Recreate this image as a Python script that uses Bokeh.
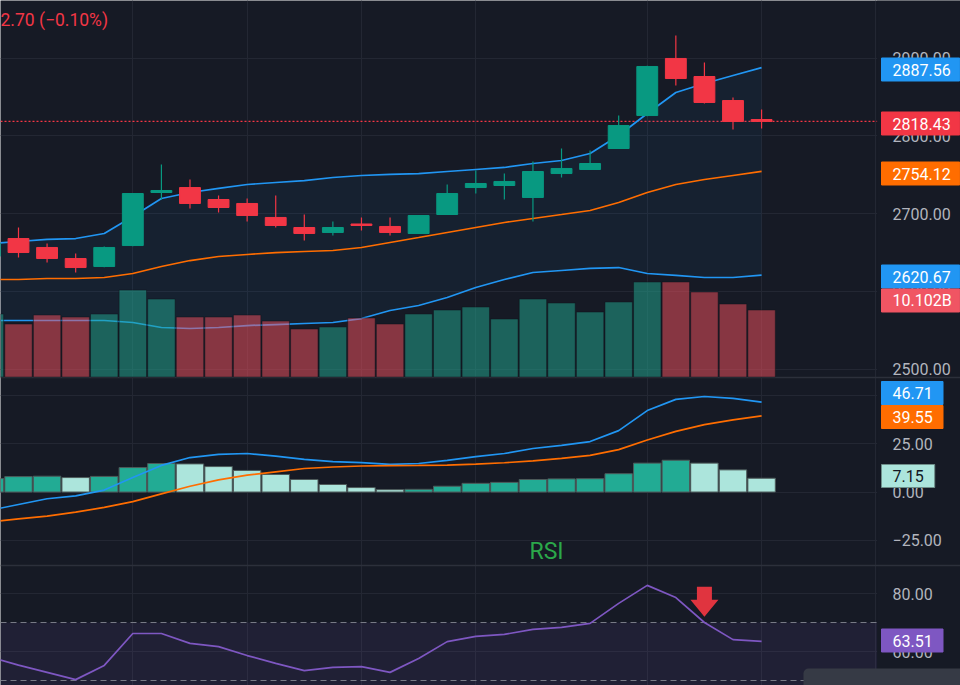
from bokeh.plotting import figure
from bokeh.models import Range1d, FixedTicker, Span, Label, BoxAnnotation, ColumnDataSource
from bokeh.core.properties import value
from bokeh.embed import file_html
from bokeh.resources import INLINE

# ---------------- data ----------------
bar_index = list(range(-1, 27))
open_ = [2645.0, 2667.8, 2656.3, 2642.1, 2631.8, 2658.8, 2727.0, 2733.4, 2718.0, 2712.9, 2694.9, 2682.0, 2675.6, 2686.5,
         2683.3, 2674.3, 2698.7, 2733.4, 2736.0, 2720.6, 2751.4, 2756.6, 2783.6, 2826.0, 2899.4, 2876.2, 2845.3, 2820.9]
high = [2668.0, 2682.0, 2661.4, 2648.6, 2657.5, 2726.5, 2763.0, 2743.7, 2723.2, 2719.3, 2723.2, 2698.7, 2689.7, 2694.9,
        2694.9, 2698.0, 2737.3, 2755.3, 2751.4, 2766.9, 2783.6, 2781.0, 2826.0, 2890.0, 2928.9, 2894.2, 2849.2, 2833.8]
low = [2640.0, 2643.4, 2637.0, 2624.1, 2631.0, 2658.0, 2718.0, 2706.4, 2701.3, 2689.7, 2682.0, 2665.3, 2671.7, 2678.1,
       2671.7, 2674.0, 2698.0, 2725.7, 2718.0, 2689.7, 2746.3, 2756.0, 2783.0, 2825.0, 2864.6, 2841.5, 2808.0, 2809.3]
close = [2662.0, 2649.8, 2642.1, 2630.5, 2656.3, 2725.7, 2729.6, 2712.9, 2707.7, 2697.4, 2684.6, 2674.3, 2682.0, 2684.6,
         2675.6, 2697.4, 2725.7, 2738.6, 2741.2, 2754.0, 2757.9, 2764.3, 2813.2, 2889.1, 2873.6, 2842.8, 2818.3, 2818.43]
volume_b = [9.50, 7.99, 9.35, 9.05, 9.50, 13.12, 11.76, 9.05, 9.05, 9.35, 8.44, 7.24, 7.54, 8.90,
            7.99, 9.50, 10.10, 10.56, 8.75, 11.76, 11.16, 9.80, 11.31, 14.33, 14.33, 12.82, 11.01, 10.102]
bb_upper = [2661.4, 2664.0, 2666.6, 2667.8, 2674.3, 2696.1, 2719.3, 2727.0, 2732.2, 2737.3, 2739.9, 2742.4, 2746.3, 2748.9,
            2750.2, 2751.4, 2754.0, 2756.6, 2759.2, 2764.3, 2768.2, 2777.2, 2800.3, 2828.6, 2855.6, 2867.2, 2877.5, 2887.56]
bb_basis = [2615.1, 2615.1, 2616.4, 2616.4, 2617.7, 2622.8, 2631.8, 2639.5, 2644.7, 2647.3, 2649.8, 2651.1, 2652.4, 2656.3,
            2662.7, 2669.1, 2675.6, 2682.0, 2688.4, 2693.6, 2698.7, 2703.9, 2714.1, 2727.0, 2737.3, 2743.7, 2748.9, 2754.12]
bb_lower = [2562.4, 2562.4, 2562.4, 2562.4, 2562.4, 2559.8, 2553.4, 2552.1, 2553.4, 2555.9, 2557.2, 2558.5, 2559.8, 2564.9,
            2575.2, 2581.7, 2592.0, 2604.8, 2615.1, 2624.1, 2626.7, 2629.3, 2630.5, 2622.8, 2620.3, 2617.7, 2617.7, 2620.67]
macd_line = [-9.5, -6.5, -3.5, -2.0, 1.0, 7.5, 13.8, 17.9, 19.5, 20.0, 18.6, 16.9, 15.8, 15.3,
             14.3, 14.8, 16.4, 18.4, 20.0, 22.6, 24.2, 26.2, 31.9, 42.3, 48.1, 49.6, 48.6, 46.71]
macd_signal = [-15.5, -14.0, -12.5, -10.5, -8.0, -5.0, -1.0, 3.0, 6.3, 8.8, 10.5, 12.2, 13.0, 13.5,
               13.7, 13.8, 14.0, 14.5, 15.2, 16.2, 17.5, 19.0, 22.0, 27.0, 31.5, 35.0, 37.5, 39.55]
macd_hist = [7.0, 8.0, 8.2, 7.5, 8.1, 12.7, 14.8, 14.6, 13.2, 11.2, 9.1, 6.5, 3.9, 2.3,
             1.2, 1.4, 3.0, 4.5, 5.0, 6.5, 6.8, 6.9, 9.5, 15.0, 16.5, 15.0, 11.5, 7.15]
rsi = [58.1, 55.3, 52.8, 50.3, 55.2, 66.2, 66.2, 62.8, 61.7, 58.6, 55.9, 53.4, 54.5, 54.8,
       52.8, 57.6, 63.4, 65.2, 65.9, 67.6, 68.3, 69.7, 76.6, 82.8, 78.6, 70.0, 64.1, 63.51]
rsi_upper_band, rsi_middle_band, rsi_lower_band = 70, 50, 30
price_ticks = [2500, 2600, 2700, 2800, 2900]
macd_ticks = [50, 25, 0, -25]
rsi_ticks = [80, 60]
time_grid = [4, 8, 12, 16, 22, 26, 30]
header_text = "2.70 (\u22120.10%)"
signal_bar, signal_rsi = 24, 72.0   # down-arrow marker on the RSI pane

# ---------------- style ----------------
BG = "#161a25"
GRID = "#232733"
SEP = "#2c303b"
UP, DOWN = "#089981", "#f23645"
VOL_UP, VOL_DOWN = "#22ab94", "#f7525f"
HIST_UP, HIST_DOWN = "#22ab94", "#ace5dc"
BLUE, ORANGE, PURPLE = "#2196f3", "#ff6d00", "#7e57c2"
FONT = "Roboto"

# ---------------- geometry (pixels) ----------------
W, H = 960, 685
SCALE_X = 876          # left edge of the price scale
X0, BAR_PX = 18.0, 28.58


def px_x(x):
    return (x - X0) / BAR_PX


def make_range(v0, y0, ppu):
    return Range1d(start=v0 - (H - y0) / ppu, end=v0 + y0 / ppu)


price_rng = make_range(2700, 213, 0.7775)
vol_rng = make_range(0, 376.5, 6.631)
macd_rng = make_range(0, 491.5, 1.925)
rsi_rng = make_range(80, 593, 2.9)


def px_y(y, rng=price_rng):
    return rng.end - y / H * (rng.end - rng.start)


def to_price(v, rng):
    f = (v - rng.start) / (rng.end - rng.start)
    return price_rng.start + f * (price_rng.end - price_rng.start)


def fmt(v):
    return f"{v:.2f}".replace("-", "\u2212")


# ---------------- figure ----------------
p = figure(width=W, height=H, output_backend="svg", toolbar_location=None,
           x_range=Range1d(px_x(0), px_x(W)), y_range=price_rng,
           x_axis_location=None, y_axis_location="right",
           min_border=0, min_border_right=0,
           background_fill_color=BG, border_fill_color=BG, outline_line_color=None)
p.extra_y_ranges = {"vol": vol_rng, "macd": macd_rng, "rsi": rsi_rng}

ticks, overrides = [], {}
for v in price_ticks:
    t = float(v)
    ticks.append(t)
    overrides[t] = fmt(v)
for v in macd_ticks:
    t = round(to_price(v, macd_rng), 6)
    ticks.append(t)
    overrides[t] = fmt(v)
for v in rsi_ticks:
    t = round(to_price(v, rsi_rng), 6)
    ticks.append(t)
    overrides[t] = fmt(v)
ticker = FixedTicker(ticks=sorted(ticks), minor_ticks=[])

ax = p.yaxis[0]
ax.fixed_location = px_x(SCALE_X)
ax.ticker = ticker
ax.major_label_overrides = overrides
ax.axis_line_color = None
ax.major_tick_line_color = None
ax.minor_tick_line_color = None
ax.major_tick_out = 0
ax.major_tick_in = 0
ax.major_label_standoff = 16
ax.major_label_text_color = "#b2b5be"
ax.major_label_text_font = FONT
ax.major_label_text_font_size = "16px"

p.ygrid.ticker = ticker
p.ygrid.grid_line_color = GRID
p.xgrid.ticker = FixedTicker(ticks=time_grid, minor_ticks=[])
p.xgrid.grid_line_color = GRID

inc = [c >= o for o, c in zip(open_, close)]
hist_col = [HIST_UP if (i == 0 or macd_hist[i] >= macd_hist[i - 1]) else HIST_DOWN for i in range(len(macd_hist))]
src = ColumnDataSource(dict(
    x=bar_index, o=open_, h=high, l=low, c=close,
    top=[max(o, c) for o, c in zip(open_, close)],
    bot=[min(o, c) for o, c in zip(open_, close)],
    color=[UP if u else DOWN for u in inc],
    vol=volume_b, vcol=[VOL_UP if u else VOL_DOWN for u in inc],
    up=bb_upper, mid=bb_basis, lo=bb_lower,
    macd=macd_line, sig=macd_signal, hist=macd_hist, hcol=hist_col, rsi=rsi,
))

# RSI band fill and levels (underlay, hidden under the price-scale area)
p.add_layout(BoxAnnotation(bottom=rsi_lower_band, top=rsi_upper_band, y_range_name="rsi",
                           fill_color=PURPLE, fill_alpha=0.1, line_color=None, level="underlay"))
for lvl in (rsi_upper_band, rsi_middle_band):
    p.add_layout(Span(location=lvl, dimension="width", y_range_name="rsi", level="underlay",
                      line_color="#787b86", line_dash="6 4", line_width=1))
p.add_layout(Span(location=close[-1], dimension="width", line_color=DOWN, line_dash="2 2",
                  line_width=1.3, level="underlay"))
# price-scale background
p.add_layout(BoxAnnotation(left=px_x(SCALE_X + 0.6), fill_color=BG, fill_alpha=1.0,
                           line_color=None, level="underlay"))
# pane separators across the full width
for yy in (377, 565):
    p.add_layout(Span(location=px_y(yy), dimension="width", line_color=SEP, line_width=1.5, level="underlay"))

# Bollinger bands
p.varea(x="x", y1="lo", y2="up", source=src, fill_color=BLUE, fill_alpha=0.06)
p.line("x", "up", source=src, line_color=BLUE, line_width=1.7)
p.line("x", "lo", source=src, line_color=BLUE, line_width=1.7)
p.line("x", "mid", source=src, line_color=ORANGE, line_width=1.7)

# Volume
p.vbar(x="x", top="vol", bottom=0, width=0.96, source=src, y_range_name="vol",
       fill_color="vcol", fill_alpha=0.5, line_color="#10131b", line_alpha=0.5, line_width=1)

# Candles
p.segment(x0="x", y0="l", x1="x", y1="h", source=src, line_color="color", line_width=1.2)
p.vbar(x="x", top="top", bottom="bot", width=0.73, source=src, fill_color="color", line_color="color", line_width=1)

# MACD
p.vbar(x="x", top="hist", bottom=0, width=0.96, source=src, y_range_name="macd",
       fill_color="hcol", line_color="#4d5a5a", line_width=1)
p.line("x", "macd", source=src, y_range_name="macd", line_color=BLUE, line_width=1.7)
p.line("x", "sig", source=src, y_range_name="macd", line_color=ORANGE, line_width=1.7)

# RSI
p.line("x", "rsi", source=src, y_range_name="rsi", line_color=PURPLE, line_width=1.7)

# Down arrow marker
dx, dy = 1 / BAR_PX, 1 / 2.9
ax_off = (0, -14, -7.5, -7.5, 7.5, 7.5, 14)
ay_off = (0, 17, 17, 30, 30, 17, 17)
p.patch([signal_bar + a * dx for a in ax_off], [signal_rsi + b * dy for b in ay_off],
        y_range_name="rsi", fill_color="#e0343f", line_color=None)

# Texts
p.add_layout(Label(x=px_x(0), y=px_y(19), text=header_text, text_color=DOWN, text_font=FONT,
                   text_font_size="17.5px", text_baseline="middle", text_align="left"))
p.add_layout(Label(x=px_x(529), y=px_y(551), text="RSI", text_color="#2ba84a", text_font=FONT,
                   text_font_size="23px", text_baseline="middle", text_align="left"))

# Value tags on the scale (drawn above the axis labels)
tags = [
    (fmt(bb_upper[-1]), 69, BLUE, "white", BLUE),
    (fmt(close[-1]), 123, DOWN, "white", DOWN),
    (fmt(bb_basis[-1]), 173, ORANGE, "white", ORANGE),
    (fmt(bb_lower[-1]), 276, BLUE, "white", BLUE),
    (f"{volume_b[-1]:.3f}B", 300, "#f05563", "white", "#f05563"),
    (fmt(macd_line[-1]), 392.5, BLUE, "white", BLUE),
    (fmt(macd_signal[-1]), 416.5, ORANGE, "white", ORANGE),
    (fmt(macd_hist[-1]), 475.5, HIST_DOWN, "#131722", "#6f8f8a"),
    (fmt(rsi[-1]), 640, PURPLE, "white", PURPLE),
]
TAG_LEFT = 881
tag_w = [8.3 * len(t[0]) + 20 for t in tags]
tag_src = ColumnDataSource(dict(
    xc=[px_x(TAG_LEFT + w / 2) for w in tag_w],
    xt=[px_x(TAG_LEFT + 11) for _ in tags],
    y=[px_y(t[1]) for t in tags],
    w=tag_w,
    text=[t[0] for t in tags], bg=[t[2] for t in tags], fg=[t[3] for t in tags], bd=[t[4] for t in tags],
))
p.rect(x="xc", y="y", width="w", height=23, width_units="screen", height_units="screen",
       source=tag_src, fill_color="bg", line_color="bd", line_width=1, level="overlay")
p.text(x="xt", y="y", text="text", source=tag_src, text_color="fg", text_font=value(FONT),
       text_font_size="16px", text_baseline="middle", text_align="left", level="overlay")

# grey button at bottom right
p.add_layout(BoxAnnotation(left=px_x(803), right=px_x(W + 10), top=px_y(668), bottom=px_y(H + 10),
                           fill_color="#363a45", fill_alpha=1.0, line_color=None, border_radius=5))

open("out.html", "w").write(file_html(p, INLINE))
